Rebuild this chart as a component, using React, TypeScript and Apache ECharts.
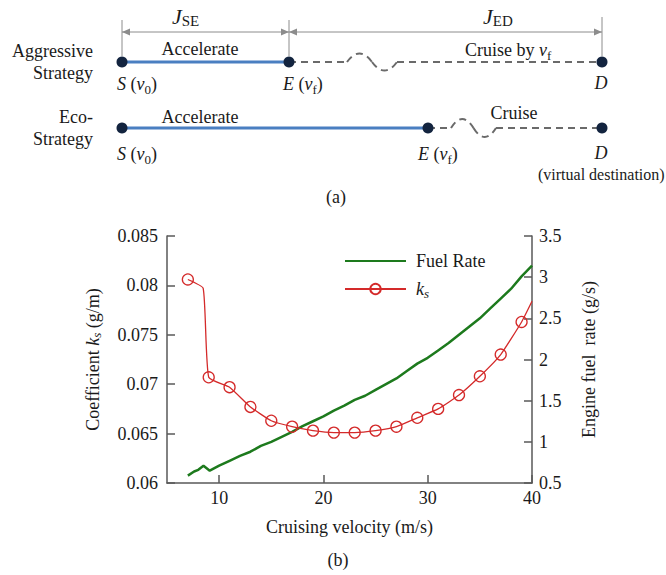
import React, { useEffect, useRef } from "react";
import * as echarts from "echarts";

// ---------- data ----------
const fuelVelocity = [7, 7.6, 8, 8.5, 9.1, 10, 11, 12, 13, 14, 15, 16, 17, 18, 19, 20, 21, 22, 23, 24, 25, 26, 27, 28, 29, 30, 31, 32, 33, 34, 35, 36, 37, 38, 39, 40];
const fuelRate = [0.59, 0.64, 0.66, 0.71, 0.65, 0.71, 0.77, 0.83, 0.88, 0.95, 1.0, 1.06, 1.12, 1.19, 1.25, 1.31, 1.38, 1.44, 1.51, 1.56, 1.63, 1.7, 1.77, 1.86, 1.95, 2.02, 2.11, 2.2, 2.3, 2.4, 2.5, 2.62, 2.74, 2.86, 3.01, 3.14];
const ksVelocity = [7, 8.47, 9, 11, 13, 15, 17, 19, 21, 23, 25, 27, 29, 31, 33, 35, 37, 39, 40];
const ksValue = [0.0806, 0.0797, 0.0707, 0.0697, 0.0677, 0.0663, 0.0657, 0.0653, 0.0651, 0.0651, 0.0653, 0.0657, 0.0666, 0.0675, 0.0689, 0.0708, 0.073, 0.0763, 0.0784];
const xTickValues = [10, 20, 30, 40];
const seriesNames = ["Fuel Rate", "ks"];

const serif = "'Liberation Serif','Times New Roman',serif";
const TXT = "#1a1a1a";
const GREEN = "#1d7a1d";
const RED = "#d42a2a";
const BLUE = "#4a7fc1";
const NAVY = "#13243f";
const DASH = "#6a6a6a";
const DIM = "#8c8c8c";
const AXIS = "#595959";

function richSet(size: number, subSize: number, shift: number) {
  return {
    n: { fontSize: size, fontFamily: serif, fill: TXT, color: TXT },
    i: { fontSize: size, fontFamily: serif, fontStyle: "italic", fill: TXT, color: TXT },
    sub: { fontSize: subSize, fontFamily: serif, fill: TXT, color: TXT, padding: [shift * 2, 0, 0, 0] },
    isub: { fontSize: subSize, fontFamily: serif, fontStyle: "italic", fill: TXT, color: TXT, padding: [shift * 2, 0, 0, 0] },
  };
}

function txt(text: string, x: number, y: number, align: string, size = 18, rich: any = null, italic = false) {
  const style: any = {
    text,
    x: 0,
    y: 0,
    fontSize: size,
    fontFamily: serif,
    fontStyle: italic ? "italic" : "normal",
    fill: TXT,
    align,
    textAlign: align,
    verticalAlign: "middle",
    textVerticalAlign: "middle",
  };
  if (rich) style.rich = rich;
  return { type: "text", x, y, z: 10, style };
}

function line(x1: number, y1: number, x2: number, y2: number, stroke: string, lineWidth: number, dash?: number[]) {
  return {
    type: "line",
    z: 5,
    shape: { x1, y1, x2, y2 },
    style: { stroke, lineWidth, lineDash: dash || null },
  };
}

function wave(x0: number, y0: number, w: number, amp: number) {
  const h = w / 2;
  const k = amp / 0.75;
  const st = { stroke: DASH, lineWidth: 2, lineDash: [7, 5], fill: null };
  return [
    {
      type: "bezierCurve",
      z: 5,
      shape: { x1: x0, y1: y0, cpx1: x0 + h * 0.33, cpy1: y0 - k, cpx2: x0 + h * 0.67, cpy2: y0 - k, x2: x0 + h, y2: y0 },
      style: st,
    },
    {
      type: "bezierCurve",
      z: 5,
      shape: { x1: x0 + h, y1: y0, cpx1: x0 + h * 1.33, cpy1: y0 + k, cpx2: x0 + h * 1.67, cpy2: y0 + k, x2: x0 + w, y2: y0 },
      style: st,
    },
  ];
}

function dot(cx: number, cy: number) {
  return { type: "circle", z: 8, shape: { cx, cy, r: 5.5 }, style: { fill: NAVY } };
}

function arrowHead(x: number, y: number, dir: number) {
  return {
    type: "polygon",
    z: 6,
    shape: { points: [[x, y], [x - dir * 8, y - 3.5], [x - dir * 8, y + 3.5]] },
    style: { fill: DIM },
  };
}

function buildDiagram() {
  const r18 = richSet(18, 13, 5);
  const rJ = {
    i: { fontSize: 22, fontFamily: serif, fontStyle: "italic", fill: TXT },
    sub: { fontSize: 15, fontFamily: serif, fill: TXT, padding: [10, 0, 0, 0] },
  };
  const r1 = 62;
  const r2 = 128;
  const els: any[] = [];
  // dimension lines
  els.push(line(122, 20, 122, 56, DIM, 1));
  els.push(line(289, 20, 289, 56, DIM, 1));
  els.push(line(602, 17, 602, 56, DIM, 1));
  els.push(line(122, 32, 289, 32, DIM, 1));
  els.push(line(289, 32, 602, 32, DIM, 1));
  els.push(arrowHead(122, 32, -1), arrowHead(289, 32, 1), arrowHead(289, 32, -1), arrowHead(602, 32, 1));
  els.push(txt("{i|J}{sub|SE}", 172, 16, "left", 22, rJ));
  els.push(txt("{i|J}{sub|ED}", 483, 16, "left", 22, rJ));
  // row 1
  els.push(line(122, r1, 289, r1, BLUE, 3));
  els.push(line(289, r1, 347, r1, DASH, 2, [7, 5]));
  els.push(...wave(347, r1, 50, 8.5));
  els.push(line(397, r1, 602, r1, DASH, 2, [7, 5]));
  els.push(dot(122, r1), dot(289, r1), dot(602, r1));
  els.push(txt("Aggressive", 93, 51, "right"));
  els.push(txt("Strategy", 93, 73, "right"));
  els.push(txt("Accelerate", 200, 49, "center"));
  els.push(txt("Cruise by {i|v}{sub|f}", 465, 50, "left", 18, r18));
  els.push(txt("{i|S} ({i|v}{sub|0})", 117, 84, "left", 18, r18));
  els.push(txt("{i|E} ({i|v}{sub|f})", 283, 84, "left", 18, r18));
  els.push(txt("D", 601, 83, "center", 18, null, true));
  // row 2
  els.push(line(122, r2, 428, r2, BLUE, 3));
  els.push(line(428, r2, 451, r2, DASH, 2, [7, 5]));
  els.push(...wave(451, r2, 45, 9));
  els.push(line(496, r2, 602, r2, DASH, 2, [7, 5]));
  els.push(dot(122, r2), dot(428, r2), dot(602, r2));
  els.push(txt("Eco-", 93, 117, "right"));
  els.push(txt("Strategy", 93, 139, "right"));
  els.push(txt("Accelerate", 200, 117, "center"));
  els.push(txt("Cruise", 514, 113, "center"));
  els.push(txt("{i|S} ({i|v}{sub|0})", 117, 154, "left", 18, r18));
  els.push(txt("{i|E} ({i|v}{sub|f})", 418, 154, "left", 18, r18));
  els.push(txt("D", 601, 153, "center", 18, null, true));
  els.push(txt("(virtual destination)", 538, 174, "left", 16));
  els.push(txt("(a)", 336, 197, "center"));
  els.push(txt("(b)", 338, 560, "center"));
  return els;
}

export default function App() {
  const ref = useRef<HTMLDivElement>(null);
  useEffect(() => {
    if (!ref.current) return;
    const chart = echarts.init(ref.current, null, { renderer: "svg" });
    const axisRich = richSet(18, 13, 4);
    const labelStyle = { fontSize: 18, color: TXT, fontFamily: serif };
    const option: any = {
      animation: false,
      backgroundColor: "#fff",
      textStyle: { fontFamily: serif },
      grid: { left: 167, right: 134, top: 236, bottom: 92 },
      legend: {
        orient: "vertical",
        left: 344,
        top: 252,
        padding: 0,
        itemWidth: 61,
        itemHeight: 13,
        itemGap: 10,
        data: [{ name: seriesNames[0], itemStyle: { opacity: 0 } }, { name: seriesNames[1] }],
        formatter: (n: string) => (n === "ks" ? "{i|k}{isub|s}" : n),
        textStyle: { ...labelStyle, padding: [0, 0, 0, 5], rich: richSet(18, 13, 4) },
      },
      xAxis: {
        type: "value",
        min: 5,
        max: 40,
        name: "Cruising velocity (m/s)",
        nameLocation: "middle",
        nameGap: 35,
        nameTextStyle: labelStyle,
        axisLine: { show: true, onZero: false, lineStyle: { color: AXIS, width: 1.5 } },
        axisTick: { show: true, inside: true, length: 8, customValues: xTickValues, lineStyle: { color: AXIS, width: 1.5 } },
        axisLabel: { customValues: xTickValues, ...labelStyle, margin: 6 },
        splitLine: { show: false },
      },
      yAxis: [
        {
          type: "value",
          position: "left",
          min: 0.06,
          max: 0.085,
          interval: 0.005,
          name: "{n|Coefficient }{i|k}{isub|s}{n| (g/m)}",
          nameLocation: "middle",
          nameRotate: 90,
          nameGap: 64,
          nameTextStyle: { ...labelStyle, rich: axisRich },
          axisLine: { show: true, lineStyle: { color: AXIS, width: 1.5 } },
          axisTick: { show: true, inside: true, length: 8, lineStyle: { color: AXIS, width: 1.5 } },
          axisLabel: { ...labelStyle, margin: 9 },
          splitLine: { show: false },
        },
        {
          type: "value",
          position: "right",
          min: 0.5,
          max: 3.5,
          interval: 0.5,
          name: "Engine fuel  rate (g/s)",
          nameLocation: "middle",
          nameRotate: 90,
          nameGap: 48,
          nameTextStyle: labelStyle,
          axisLine: { show: true, lineStyle: { color: AXIS, width: 1.5 } },
          axisTick: { show: true, inside: true, length: 8, lineStyle: { color: AXIS, width: 1.5 } },
          axisLabel: { ...labelStyle, margin: 7 },
          splitLine: { show: false },
        },
      ],
      series: [
        {
          name: seriesNames[0],
          type: "line",
          yAxisIndex: 1,
          symbol: "none",
          color: GREEN,
          lineStyle: { color: GREEN, width: 2.5 },
          data: fuelVelocity.map((v, i) => [v, fuelRate[i]]),
          z: 3,
        },
        {
          name: seriesNames[1],
          type: "line",
          yAxisIndex: 0,
          symbol: "circle",
          symbolSize: 11,
          smooth: 0.15,
          color: RED,
          itemStyle: { color: "rgba(255,255,255,0)", borderColor: RED, borderWidth: 1.3 },
          lineStyle: { color: RED, width: 1.3 },
          data: ksVelocity.map((v, i) => {
            const marked = Number.isInteger(v) && v % 2 === 1;
            return marked ? [v, ksValue[i]] : { value: [v, ksValue[i]], symbol: "none" };
          }),
          z: 4,
        },
      ],
      graphic: { elements: buildDiagram() },
    };
    chart.setOption(option);
    return () => chart.dispose();
  }, []);
  return (
    <div
      ref={ref}
      style={{ position: "fixed", left: 0, top: 0, width: 666, height: 575, background: "#fff" }}
    />
  );
}
